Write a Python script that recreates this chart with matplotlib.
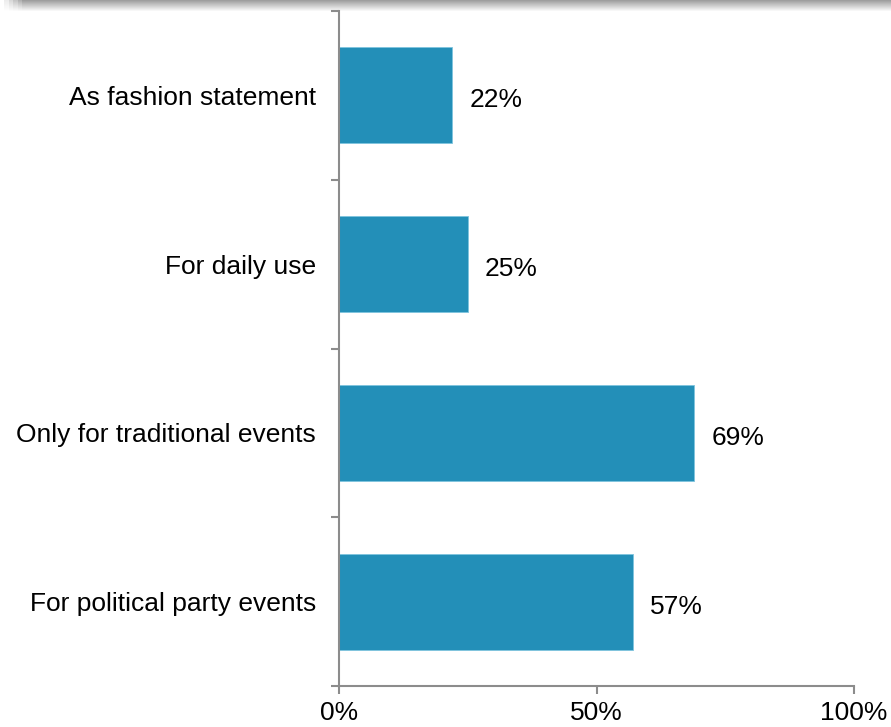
import numpy as np
import matplotlib
matplotlib.use("Agg")
import matplotlib.pyplot as plt

plt.rcParams["font.family"] = ["Liberation Sans", "DejaVu Sans"]

categories = ["As fashion statement", "For daily use",
              "Only for traditional events", "For political party events"]
values = [22, 25, 69, 57]
xticks = [0, 50, 100]

BAR = "#238fb8"
GREY = "#8c8c8c"
FS = 19

fig = plt.figure(figsize=(8.91, 7.27), dpi=100)

# soft shadow strip along the top edge
sh = fig.add_axes([0, 1 - 12 / 727, 1, 12 / 727])
grad = np.linspace(0.62, 1.0, 12)[:, None] * np.ones((1, 200))
fade = np.clip(np.linspace(0, 40, 200), 0, 1)[None, :]
img = 1 - (1 - grad) * fade
sh.imshow(img, cmap="gray", vmin=0, vmax=1, aspect="auto", extent=[0, 1, 0, 1])
sh.axis("off")

ax = fig.add_axes([339 / 891, 41 / 727, 515 / 891, 675 / 727])
y = np.arange(len(categories))[::-1]
ax.barh(y, values, height=0.57, color=BAR, edgecolor="#7fc4de", linewidth=0.6)
for yi, v in zip(y, values):
    ax.text(v + 3.3, yi - 0.015, f"{v}%", va="center_baseline", ha="left", fontsize=FS)

ax.set_xlim(0, 100)
ax.set_ylim(-0.5, len(categories) - 0.5)
ax.set_xticks(xticks)
ax.set_xticklabels([f"{t}%" for t in xticks], fontsize=FS)
ax.set_yticks(np.arange(len(categories) + 1) - 0.5)
ax.set_yticklabels([])
ax.set_yticks(y, minor=True)
ax.set_yticklabels(categories, minor=True, fontsize=FS)
ax.tick_params(axis="y", which="minor", length=0, pad=16.5)
ax.tick_params(axis="y", which="major", length=6, width=1.5, color=GREY)
ax.tick_params(axis="x", length=6, width=1.5, color=GREY, pad=5)
for s in ["top", "right"]:
    ax.spines[s].set_visible(False)
for s in ["left", "bottom"]:
    ax.spines[s].set_color(GREY)
    ax.spines[s].set_linewidth(1.5)

fig.savefig("out.png", dpi=100)
